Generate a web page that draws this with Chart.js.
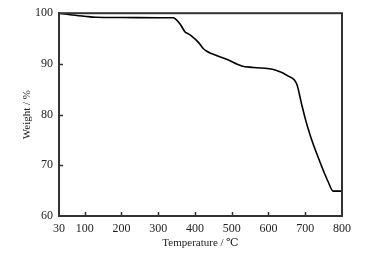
<!DOCTYPE html>
<html>
<head>
<meta charset="utf-8">
<script src="https://cdn.jsdelivr.net/npm/chart.js@4/dist/chart.umd.min.js"></script>
<style>
  html, body { margin: 0; padding: 0; background: #fff; }
  #wrap { width: 375px; height: 256px; }
</style>
</head>
<body>
<div id="wrap"><canvas id="tgChart" width="375" height="256"></canvas></div>
<script>
// TG curve
const temps   = [30, 60, 100, 130, 200, 300, 340, 359, 373, 380, 391, 410, 423, 432, 460, 486, 527, 559, 618, 654, 677, 690, 700, 710, 720, 735, 749, 762, 776, 800];
const weights = [100, 99.7, 99.4, 99.2, 99.15, 99.1, 99.1, 97.9, 96.3, 96.0, 95.5, 94.2, 93.0, 92.5, 91.6, 90.9, 89.6, 89.3, 88.8, 87.6, 86.0, 82.1, 79.2, 76.7, 74.5, 71.6, 69.0, 66.8, 64.9, 64.9];
const xTicks = [30, 100, 200, 300, 400, 500, 600, 700, 800];
const yTicks = [60, 70, 80, 90, 100];

const axisColor = '#333';
const serif = "'Liberation Serif', 'DejaVu Serif', serif";

// frame + small inward ticks
const framePlugin = {
    id: 'frame',
    afterDraw(chart) {
        const { ctx, chartArea: a, scales } = chart;
        ctx.save();
        ctx.strokeStyle = axisColor;
        ctx.lineWidth = 2;
        ctx.strokeRect(a.left, a.top, a.right - a.left, a.bottom - a.top);
        ctx.lineWidth = 1.5;
        ctx.beginPath();
        xTicks.slice(1, -1).forEach(v => {
            const x = Math.round(scales.x.getPixelForValue(v)) + 0.5;
            ctx.moveTo(x, a.bottom);
            ctx.lineTo(x, a.bottom - 4);
        });
        yTicks.slice(1, -1).forEach(v => {
            const y = Math.round(scales.y.getPixelForValue(v)) + 0.5;
            ctx.moveTo(a.left, y);
            ctx.lineTo(a.left + 4, y);
        });
        ctx.stroke();
        ctx.restore();
    }
};

new Chart(document.getElementById('tgChart'), {
    type: 'line',
    data: {
        datasets: [{
            data: temps.map((t, i) => ({ x: t, y: weights[i] })),
            borderColor: '#000',
            borderWidth: 1.6,
            pointRadius: 0,
            cubicInterpolationMode: 'monotone',
            fill: false
        }]
    },
    options: {
        responsive: false,
        animation: false,
        layout: { padding: { top: 12, right: 33, left: 0, bottom: 0 } },
        plugins: { legend: { display: false }, tooltip: { enabled: false } },
        scales: {
            x: {
                type: 'linear',
                min: 30, max: 800,
                afterBuildTicks: s => { s.ticks = xTicks.map(v => ({ value: v })); },
                afterFit: s => { s.height = 40; },
                grid: { display: false, drawTicks: false, tickLength: 0 },
                border: { display: true, color: axisColor, width: 2 },
                ticks: { color: '#222', padding: 6, maxRotation: 0, autoSkip: false, font: { family: serif, size: 12 } },
                title: { display: true, text: 'Temperature / ℃', color: '#222', padding: { top: 0, bottom: 6 }, font: { family: serif, size: 11 } }
            },
            y: {
                min: 60, max: 100,
                afterBuildTicks: s => { s.ticks = yTicks.map(v => ({ value: v })); },
                afterFit: s => { s.width = 59; },
                grid: { display: false, drawTicks: false, tickLength: 0 },
                border: { display: true, color: axisColor, width: 2 },
                ticks: { color: '#222', padding: 6, font: { family: serif, size: 12 } },
                title: { display: true, text: 'Weight / %', color: '#222', padding: { top: 21, bottom: 0 }, font: { family: serif, size: 11 } }
            }
        }
    },
    plugins: [framePlugin]
});
</script>
</body>
</html>
